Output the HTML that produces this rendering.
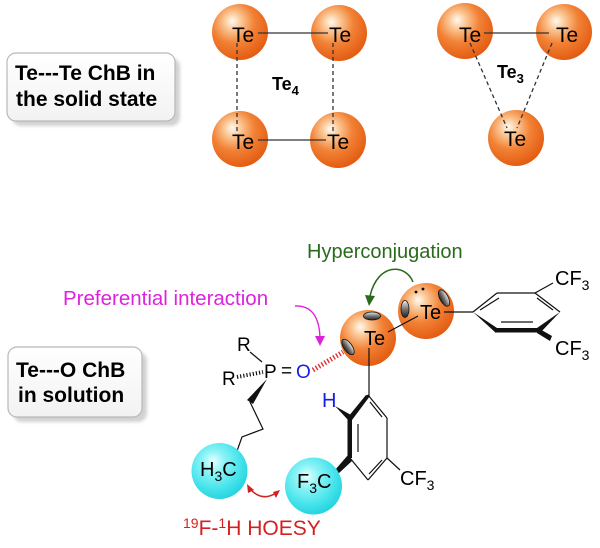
<!DOCTYPE html>
<html><head><meta charset="utf-8"><style>
html,body{margin:0;padding:0;background:#fff;}
svg{display:block;}
text{font-family:"Liberation Sans",Arial,sans-serif;}
</style></head><body>
<svg width="600" height="548" viewBox="0 0 600 548" xmlns="http://www.w3.org/2000/svg">
<defs>
<radialGradient id="og" cx="0.4" cy="0.35" r="0.68" fx="0.36" fy="0.3">
<stop offset="0" stop-color="#fffaf2"/>
<stop offset="0.22" stop-color="#fbc896"/>
<stop offset="0.55" stop-color="#f28236"/>
<stop offset="1" stop-color="#e25a10"/>
</radialGradient>
<radialGradient id="cg" cx="0.42" cy="0.38" r="0.65" fx="0.38" fy="0.32">
<stop offset="0" stop-color="#e8ffff"/>
<stop offset="0.3" stop-color="#8ef4f6"/>
<stop offset="0.7" stop-color="#48e4ec"/>
<stop offset="1" stop-color="#22d2de"/>
</radialGradient>
<linearGradient id="bx" x1="0" y1="0" x2="0" y2="1">
<stop offset="0" stop-color="#ffffff"/>
<stop offset="1" stop-color="#f2f2f2"/>
</linearGradient>
<linearGradient id="el" x1="0" y1="0" x2="0" y2="1">
<stop offset="0" stop-color="#eeeeee"/>
<stop offset="0.5" stop-color="#777"/>
<stop offset="1" stop-color="#222"/>
</linearGradient>
<filter id="sh" x="-10%" y="-10%" width="120%" height="130%"><feGaussianBlur stdDeviation="1.5"/></filter>
</defs>

<!-- Box 1 -->
<rect x="12" y="58" width="168" height="68" rx="9" fill="#d2d2d2" filter="url(#sh)"/>
<rect x="7" y="53" width="168" height="68" rx="9" fill="url(#bx)" stroke="#b8b8b8" stroke-width="1.2"/>
<text x="15" y="80" font-size="21" font-weight="bold" fill="#000">Te---Te ChB in</text>
<text x="16" y="106" font-size="21" font-weight="bold" fill="#000">the solid state</text>

<!-- Te4 -->
<circle cx="240" cy="32" r="28" fill="url(#og)"/>
<circle cx="240" cy="139" r="28" fill="url(#og)"/>
<circle cx="339" cy="33" r="28" fill="url(#og)"/>
<circle cx="338" cy="140" r="28" fill="url(#og)"/>
<g stroke="#333" stroke-width="1.3" fill="none">
<line x1="258" y1="33" x2="328" y2="33"/>
<line x1="258" y1="140" x2="326" y2="140"/>
<line x1="237" y1="43" x2="237" y2="132" stroke-dasharray="4,3"/>
<line x1="333" y1="43" x2="333" y2="132" stroke-dasharray="4,3"/>
</g>
<g font-size="21" fill="#000">
<text x="232" y="42">Te</text>
<text x="232" y="149">Te</text>
<text x="329" y="42">Te</text>
<text x="327" y="149">Te</text>
</g>
<text x="272" y="90" font-size="18" font-weight="bold">Te<tspan font-size="13" dy="5">4</tspan></text>

<!-- Te3 -->
<circle cx="465" cy="31" r="28" fill="url(#og)"/>
<circle cx="564" cy="32" r="28" fill="url(#og)"/>
<circle cx="516" cy="138" r="28" fill="url(#og)"/>
<g stroke="#333" stroke-width="1.3" fill="none">
<line x1="484" y1="33" x2="549" y2="33"/>
<line x1="470" y1="43" x2="507" y2="128" stroke-dasharray="4,3"/>
<line x1="552" y1="43" x2="517" y2="128" stroke-dasharray="4,3"/>
</g>
<g font-size="21" fill="#000">
<text x="459" y="42">Te</text>
<text x="556" y="42">Te</text>
<text x="504" y="146">Te</text>
</g>
<text x="497" y="78" font-size="18" font-weight="bold">Te<tspan font-size="13" dy="5">3</tspan></text>

<!-- Box 2 -->
<rect x="13" y="352" width="134" height="70" rx="9" fill="#d2d2d2" filter="url(#sh)"/>
<rect x="8" y="347" width="134" height="70" rx="9" fill="url(#bx)" stroke="#b8b8b8" stroke-width="1.2"/>
<text x="16" y="377" font-size="21" font-weight="bold">Te---O ChB</text>
<text x="18" y="402" font-size="21" font-weight="bold">in solution</text>

<!-- Labels -->
<text x="63" y="305" font-size="20.5" fill="#dd22dd">Preferential interaction</text>
<text x="307" y="258" font-size="20" fill="#2a6a1c">Hyperconjugation</text>

<!-- magenta arrow -->
<path d="M295,306 Q319,305 320,338" fill="none" stroke="#dd22dd" stroke-width="1.4"/>
<polygon points="315,336 325,336 320,346" fill="#dd22dd"/>
<!-- green arrow -->
<path d="M413,282 C406,264 378,262 370,296" fill="none" stroke="#2a6a1c" stroke-width="1.5"/>
<polygon points="365,295 375,296 369,306" fill="#2a6a1c"/>

<!-- Te spheres bottom -->
<circle cx="368" cy="338" r="28" fill="url(#og)"/>
<circle cx="426" cy="311" r="28" fill="url(#og)"/>
<ellipse cx="372" cy="316" rx="8.5" ry="4" fill="url(#el)" stroke="#111" stroke-width="0.8"/>
<ellipse cx="348" cy="347" rx="9" ry="4.2" transform="rotate(55 348 347)" fill="url(#el)" stroke="#111" stroke-width="0.8"/>
<ellipse cx="405" cy="309" rx="4" ry="8.5" fill="url(#el)" stroke="#111" stroke-width="0.8"/>
<ellipse cx="444" cy="298" rx="9" ry="4.2" transform="rotate(62 444 298)" fill="url(#el)" stroke="#111" stroke-width="0.8"/>
<circle cx="416" cy="292" r="1.4" fill="#000"/>
<circle cx="423" cy="289" r="1.4" fill="#000"/>
<g stroke="#111" stroke-width="1.2" fill="none">
<line x1="388" y1="332" x2="418" y2="316"/>
<line x1="444" y1="312" x2="473" y2="312"/>
<line x1="369" y1="348" x2="369" y2="396"/>
</g>
<text x="364" y="345" font-size="20">Te</text>
<text x="420" y="319" font-size="20">Te</text>

<!-- red hashed bond -->
<line x1="313" y1="370" x2="343" y2="352" stroke="#e03030" stroke-width="5" stroke-dasharray="1.4,2"/>

<!-- upper right aryl -->
<g stroke="#111" stroke-width="1.2" fill="none">
<line x1="473" y1="312" x2="497" y2="293"/>
<line x1="497" y1="293" x2="535" y2="293"/>
<line x1="535" y1="293" x2="560" y2="312"/>
<line x1="480" y1="310" x2="499" y2="298"/>
<line x1="537" y1="298" x2="553" y2="310"/>
<line x1="501" y1="322" x2="533" y2="322"/>
<line x1="535" y1="293" x2="553" y2="283"/>
</g>
<polygon points="473,312 497,328 496,333" fill="#111"/>
<rect x="496" y="328" width="43" height="4.5" fill="#111"/>
<polygon points="537,328 540,333 560,312" fill="#111"/>
<polygon points="538,328 552,336 550,341 537,333" fill="#111"/>
<text x="555" y="285" font-size="20">CF<tspan font-size="14" dy="5">3</tspan></text>
<text x="555" y="355" font-size="20">CF<tspan font-size="14" dy="5">3</tspan></text>

<!-- phosphine oxide -->
<text x="237" y="351" font-size="19">R</text>
<text x="222" y="385" font-size="19">R</text>
<text x="264" y="378" font-size="19">P</text>
<text x="281" y="377" font-size="19">=</text>
<text x="296" y="378" font-size="19" fill="#1a1aee">O</text>
<line x1="250" y1="352" x2="262" y2="362" stroke="#111" stroke-width="1.2"/>
<line x1="237" y1="377" x2="263" y2="372" stroke="#111" stroke-width="4" stroke-dasharray="1.2,2"/>
<polygon points="267,379 247,400 253,404" fill="#111"/>
<polyline points="250,402 263,429 242,437 237,451" fill="none" stroke="#111" stroke-width="1.2"/>

<!-- lower aryl -->
<g stroke="#111" stroke-width="1.2" fill="none">
<line x1="368" y1="395" x2="387" y2="418"/>
<line x1="387" y1="418" x2="387" y2="458"/>
<line x1="387" y1="458" x2="368" y2="480"/>
<line x1="368" y1="480" x2="350" y2="458"/>
<line x1="368" y1="395" x2="350" y2="418"/>
<line x1="370" y1="402" x2="382" y2="417"/>
<line x1="382" y1="460" x2="369" y2="474"/>
<line x1="358" y1="424" x2="358" y2="452"/>
<line x1="387" y1="458" x2="400" y2="470"/>
</g>
<polygon points="366,395 370,396 352,420 348,417" fill="#111"/>
<rect x="347.5" y="418" width="4.5" height="40" fill="#111"/>
<polygon points="335,406 351,415 349,421" fill="#111"/>
<polygon points="348,455 352,461 338,474 335,470" fill="#111"/>
<text x="322" y="407" font-size="20" fill="#1a1aee">H</text>
<text x="400" y="485" font-size="20">CF<tspan font-size="14" dy="5">3</tspan></text>

<!-- cyan spheres -->
<circle cx="219.5" cy="471" r="28" fill="url(#cg)"/>
<circle cx="313.5" cy="486" r="28.5" fill="url(#cg)"/>
<text x="200" y="476" font-size="20">H<tspan font-size="14" dy="5">3</tspan><tspan dy="-5">C</tspan></text>
<text x="297" y="488" font-size="20">F<tspan font-size="14" dy="5">3</tspan><tspan dy="-5">C</tspan></text>

<!-- red double arrow -->
<path d="M250,489 Q262,502 276,493" fill="none" stroke="#d42020" stroke-width="1.5"/>
<polygon points="247,484 254,490 248,493" fill="#d42020"/>
<polygon points="280,490 273,492 276,498" fill="#d42020"/>

<text x="183" y="535" font-size="21" fill="#d42020"><tspan font-size="14" dy="-7">19</tspan><tspan dy="7">F-</tspan><tspan font-size="14" dy="-7">1</tspan><tspan dy="7">H HOESY</tspan></text>
</svg>
</body></html>
